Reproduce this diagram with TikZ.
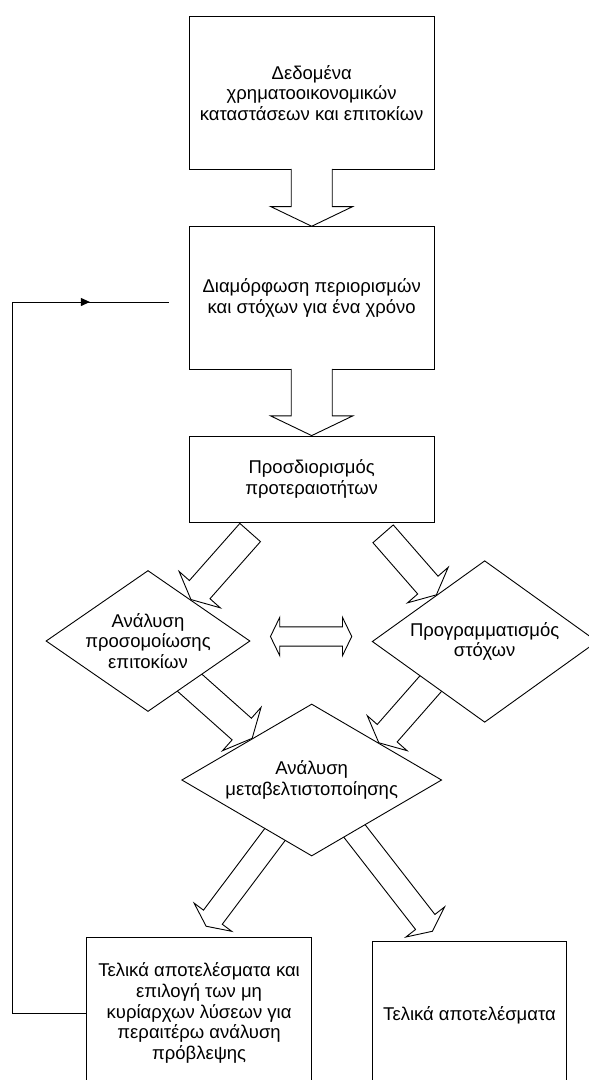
\documentclass[tikz,border=0pt]{standalone}
\usepackage{fontspec}
\setmainfont{Liberation Sans}
\usetikzlibrary{positioning, shapes.geometric, calc, arrows.meta, decorations.markings}
\pgfdeclarelayer{background}
\pgfsetlayers{background,main}

% block arrow: [end of outline]{tail}{tip}{head width}{tail overlap}
\newcommand{\blockarrow}[5][]{%
  \path let \p1=#2, \p2=#3 in \pgfextra{%
    \pgfmathparse{atan2(\y2-\y1,\x2-\x1)}\xdef\baang{\pgfmathresult}%
    \pgfmathparse{veclen(\x2-\x1,\y2-\y1)}\xdef\balen{\pgfmathresult}};
  \begin{scope}[shift={#2}, rotate=\baang]
    \pgfmathsetmacro\bas{0.25*#4}
    \pgfmathsetmacro\bah{0.5*#4}
    \pgfmathsetmacro\bak{\balen-0.24*#4}
    \fill[white] (-#5,-\bas) -- (\bak,-\bas) -- (\bak,-\bah) -- (\balen,0) -- (\bak,\bah) -- (\bak,\bas) -- (-#5,\bas) -- cycle;
    \draw[blk] (-#5,-\bas) -- (\bak,-\bas) -- (\bak,-\bah) -- (\balen,0) -- (\bak,\bah) -- (\bak,\bas) -- (-#5,\bas) #1;
  \end{scope}}

\begin{document}
\begin{tikzpicture}[x=1pt, y=-1pt, on grid,
  box/.style={draw, fill=white, line width=0.9pt, inner sep=0pt, align=center, minimum width=245.3pt},
  dec/.style={diamond, draw, fill=white, line width=0.9pt, inner sep=-12pt, align=center},
  blk/.style={line width=0.9pt, line join=miter},
  fb/.style={line width=0.9pt},
  mid arrow/.style={decoration={markings, mark=at position 77pt with {\arrow{Triangle[length=9pt, width=8pt]}}}, postaction=decorate},
  font=\fontsize{18.5}{20.8}\selectfont]
  \useasboundingbox (0,0) rectangle (589,1080);

  \node[box, minimum height=152.6pt] (data) at (311.7,93) {Δεδομένα\\χρηματοοικονομικών\\καταστάσεων και επιτοκίων};
  \node[box, minimum height=142.6pt] (plan) [below=205pt of data] {Διαμόρφωση περιορισμών\\και στόχων για ένα χρόνο};
  \node[box, minimum height=86.3pt] (prio) [below=181.2pt of plan] {Προσδιορισμός\\προτεραιοτήτων};
  \node[dec, minimum width=260pt, minimum height=152pt, shape aspect=1.71] (opt) [below=300.8pt of prio] {Ανάλυση\\μεταβελτιστοποίησης};
  \node[dec, minimum width=204pt, minimum height=141pt, shape aspect=1.45] (sim) [above left=139pt and 163.7pt of opt] {Ανάλυση\\προσομοίωσης\\επιτοκίων};
  \node[dec, minimum width=225pt, minimum height=161.6pt, shape aspect=1.39] (goal) [above right=138.5pt and 173pt of opt] {Προγραμματισμός\\στόχων};
  \node[box, minimum width=224.6pt, minimum height=152pt] (res1) [below left=233pt and 112.6pt of opt] {Τελικά αποτελέσματα και\\επιλογή των μη\\κυρίαρχων λύσεων για\\περαιτέρω ανάλυση\\πρόβλεψης};
  \node[box, minimum width=194pt, minimum height=147pt] (res2) [below right=235.2pt and 157.8pt of opt] {Τελικά αποτελέσματα};

  % arrows leaving the diamonds go under them
  \begin{pgfonlayer}{background}
    \blockarrow{(sim.-45)}{(opt.145)}{58}{20}
    \blockarrow{(goal.218)}{(opt.29)}{53}{20}
    \blockarrow{(opt.236)}{($(res1.north west)!0.53!(res1.north east)+(0,-10)$)}{47}{20}
    \blockarrow{(opt.-50)}{($(res2.north west)!0.31!(res2.north east)+(0,-10)$)}{49}{20}
  \end{pgfonlayer}

  \blockarrow{(data.south)}{(plan.north)}{82}{1}
  \blockarrow{(plan.south)}{(prio.north)}{82}{1}
  \blockarrow[-- cycle]{($(prio.south west)!0.25!(prio.south east)+(0,9.7)$)}{(sim.44)}{55}{0}
  \blockarrow[-- cycle]{($(prio.south west)!0.79!(prio.south east)+(0,11)$)}{(goal.136)}{54}{0}

  % two-way arrow
  \coordinate (dl) at ($(sim.east)+(20,-4.5)$);
  \coordinate (dr) at ($(goal.west)+(-20,-5)$);
  \draw[blk, fill=white] (dl) -- ++(9.3,-19.2) |- ($(dr)+(-9.3,-9.6)$) -- ++(0,-9.6) -- (dr)
    -- ++(-9.3,19.2) |- ($(dl)+(9.3,9.6)$) -- ++(0,9.6) -- cycle;

  % feedback
  \coordinate[left=20pt of plan.west, yshift=-4pt] (fbe);
  \coordinate[left=155.7pt of fbe] (fbc);
  \draw[fb] (res1.west) -| (fbc);
  \draw[fb, mid arrow] (fbc) -- (fbe);
\end{tikzpicture}
\end{document}
